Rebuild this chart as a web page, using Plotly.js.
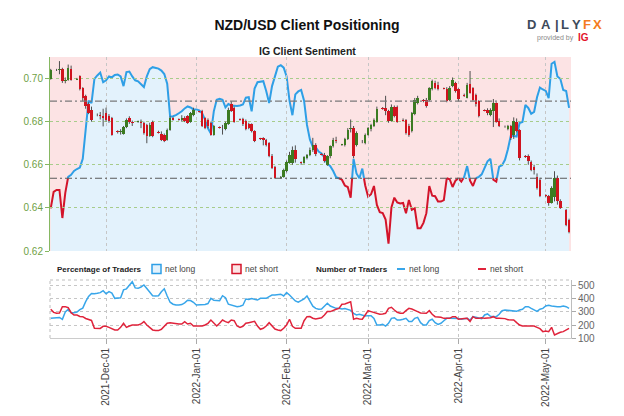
<!DOCTYPE html>
<html><head><meta charset="utf-8">
<script src="https://cdn.plot.ly/plotly-3.0.1.min.js"></script>
<style>html,body{margin:0;padding:0;background:#fff}#chart{width:624px;height:416px}</style>
</head><body><div id="chart"></div>
<script>
// ---- calendar ----
const START_DATE = [2021, 10, 12];   // 2021-11-12 (UTC, month 0-based)
const N_DAYS = 179;                  // through 2022-05-09
const monthTicks = ['2021-12-01','2022-01-01','2022-02-01','2022-03-01','2022-04-01','2022-05-01'];
const monthLabels = ['2021-Dec-01','2022-Jan-01','2022-Feb-01','2022-Mar-01','2022-Apr-01','2022-May-01'];
const priceTicks = [0.62, 0.64, 0.66, 0.68, 0.70];
const pctTicks = [35, 40, 45, 50, 55, 60, 65, 70, 75];
const traderTicks = [100, 200, 300, 400, 500];

// ---- % of traders net long (daily) ----
const sentimentLong = [
43.8,47.2,47.6,47.6,41.8,47,50.3,50.7,51.5,51.9,
52.2,54,60,66,65.5,70.5,71.2,71.8,69.8,70.2,
71,70.8,71.3,71.4,71,69,71.9,72,71,70.2,
70,69.5,68.8,71,72.5,72.9,72.8,72.6,72.2,71.5,
69.5,62.7,62.8,63,63.4,63.8,64.4,64.8,64.6,64.2,
64.2,64,63.4,62.1,60.3,59.2,63.8,66.2,66.4,66.2,
64.6,65.3,65,64.9,64.9,65,65.2,66.6,66.7,63.8,
68.5,69.8,69.9,70,68,65.5,69,71,73,73.3,
72.8,71,66,63,67.3,67.9,68.2,66,61,58,
56.5,56.4,55.5,55.1,54.3,53,52.5,51.5,50.2,50,
49.7,48.5,48.2,46,54,51,50,52,48.5,46.2,
46.7,48.4,44.5,43,42.8,41.5,36.5,44,46,45,
44.8,44.9,42.8,45.5,43.5,43.8,39.7,39.7,40.8,42.8,
48.4,46.4,46.3,45.2,45.2,45.5,50,49.8,48.2,49.5,
50,49.3,50.3,52.5,49.5,48.4,50,50.3,50.8,52.3,
53.5,54,49.7,49.3,52.4,52.7,53.8,56,58.8,58.7,
58.6,61.4,61.6,65.1,64.5,63.3,63.7,66.7,68.7,68.3,
68,66.5,73.6,74,71,70.5,68.2,68,64.5];

// ---- number of traders (daily) ----
const tradersLong = [
251,254,256,258,244,300,320,295,295,300,
318,330,380,420,442,440,444,449,464,440,
456,445,405,405,410,470,478,505,533,485,
482,492,508,480,450,425,423,425,455,478,
423,375,360,354,354,357,370,390,388,375,
354,354,354,358,365,405,390,387,387,425,
410,360,352,343,341,344,352,400,397,403,
400,392,405,405,405,418,430,431,435,437,
423,449,431,407,385,375,390,400,423,385,
345,328,321,323,346,367,346,336,328,328,
323,326,321,313,290,277,282,277,269,272,
272,251,200,200,205,192,213,251,256,238,
238,244,251,226,226,251,259,218,200,200,
233,244,218,205,213,233,251,251,251,251,
249,244,249,251,238,264,259,251,249,277,
285,267,264,264,282,310,315,313,313,310,
305,315,321,341,341,328,315,305,321,328,
346,351,346,341,341,341,346,341,328];
const tradersShort = [
321,297,291,292,341,341,333,295,277,277,
266,264,250,240,235,175,174,174,190,190,
182,170,162,162,182,213,182,192,200,200,
200,208,226,200,182,162,157,157,167,187,
213,218,213,208,208,208,226,208,213,192,
192,192,192,200,213,238,213,192,213,238,
226,218,238,233,192,182,190,213,218,226,
228,192,167,175,192,218,192,169,162,157,
175,200,244,190,175,175,175,233,264,265,
252,246,249,256,277,303,303,315,321,328,
359,362,372,379,244,251,246,244,277,310,
303,295,290,282,285,290,328,336,315,298,
290,290,310,328,323,315,303,292,290,290,
310,282,264,264,259,251,251,251,264,264,
244,244,249,251,226,264,251,251,256,251,
251,256,264,251,251,251,249,241,238,238,
218,200,192,192,192,192,192,182,172,149,
154,149,182,123,136,144,149,162,174];

// ---- NZD/USD daily candles (Sun-Fri sessions) ----
const priceOpen = [
.6998,
.7040,.7038,.7045,.6988,.6995,.7045,
.6995,.7010,.6957,.6918,.6880,.6855,
.6832,.6830,.6825,.6840,.6825,.6818,
.6755,.6752,.6745,.6775,.6815,.6800,
.6800,.6800,.6795,.6785,.6735,.6800,
.6752,.6745,.6740,.6716,.6763,.6815,
.6812,.6810,.6818,.6825,.6800,.6830,
.6848,.6848,.6815,.6810,.6795,.6740,
.6775,.6772,.6765,.6790,.6880,.6865,
.6812,.6812,.6805,.6790,.6788,.6755,
.6722,.6722,.6716,.6700,.6640,.6592,
.6538,.6545,.6570,.6610,.6610,.6670,
.6612,.6610,.6632,.6645,.6668,.6690,
.6650,.6647,.6600,.6639,.6685,.6716,
.6693,.6690,.6720,.6765,.6770,.6690,
.6712,.6700,.6740,.6765,.6780,.6800,
.6865,.6862,.6848,.6805,.6870,.6870,
.6810,.6808,.6780,.6755,.6835,.6888,
.6900,.6902,.6902,.6950,.6980,.6972,
.6955,.6950,.6900,.6965,.6980,.6950,
.6925,.6912,.6975,.6955,.6925,.6895,
.6853,.6855,.6833,.6850,.6885,.6805,
.6778,.6765,.6778,.6740,.6800,.6760,
.6640,.6640,.6615,.6590,.6545,.6530,
.6460,.6455,.6425,.6450,.6540,.6430,
.6392,.6345];
const priceHigh = [
.7045,
.7045,.7081,.7050,.7005,.7065,.7060,
.7003,.7015,.6960,.6925,.6890,.6870,
.6838,.6845,.6860,.6865,.6835,.6822,
.6760,.6765,.6780,.6815,.6825,.6805,
.6805,.6810,.6800,.6790,.6795,.6805,
.6758,.6755,.6745,.6768,.6825,.6822,
.6815,.6830,.6825,.6830,.6845,.6865,
.6850,.6855,.6820,.6815,.6800,.6785,
.6778,.6785,.6800,.6865,.6895,.6870,
.6815,.6818,.6810,.6795,.6792,.6760,
.6725,.6728,.6720,.6705,.6650,.6595,
.6548,.6582,.6620,.6660,.6685,.6690,
.6615,.6640,.6650,.6680,.6725,.6700,
.6653,.6655,.6645,.6690,.6725,.6730,
.6697,.6725,.6770,.6810,.6780,.6755,
.6715,.6745,.6775,.6790,.6815,.6870,
.6868,.6920,.6855,.6880,.6875,.6875,
.6815,.6812,.6790,.6845,.6910,.6920,
.6905,.6910,.6960,.6995,.6990,.6985,
.6958,.6960,.6965,.7005,.6985,.6955,
.6930,.6980,.7035,.6960,.6930,.6900,
.6857,.6862,.6862,.6905,.6890,.6815,
.6782,.6785,.6785,.6820,.6815,.6765,
.6645,.6648,.6620,.6600,.6560,.6540,
.6463,.6460,.6500,.6570,.6550,.6440,
.6395,.6350];
const priceLow = [
.6995,
.7035,.7020,.6980,.6978,.6990,.6990,
.6993,.6945,.6895,.6860,.6835,.6800,
.6825,.6810,.6778,.6800,.6795,.6735,
.6745,.6740,.6740,.6770,.6790,.6780,
.6795,.6770,.6740,.6700,.6730,.6728,
.6745,.6710,.6705,.6712,.6758,.6805,
.6805,.6800,.6798,.6790,.6795,.6825,
.6842,.6775,.6765,.6770,.6735,.6735,
.6768,.6740,.6760,.6785,.6845,.6795,
.6805,.6780,.6760,.6765,.6750,.6705,
.6715,.6690,.6685,.6635,.6580,.6535,
.6535,.6540,.6565,.6605,.6600,.6610,
.6600,.6605,.6625,.6640,.6660,.6640,
.6644,.6610,.6595,.6630,.6680,.6700,
.6688,.6685,.6715,.6750,.6630,.6685,
.6700,.6695,.6735,.6755,.6775,.6795,
.6855,.6830,.6795,.6800,.6820,.6795,
.6800,.6740,.6730,.6750,.6830,.6880,
.6890,.6865,.6895,.6945,.6950,.6945,
.6950,.6890,.6895,.6960,.6935,.6895,
.6915,.6908,.6930,.6895,.6870,.6820,
.6848,.6830,.6825,.6775,.6795,.6775,
.6772,.6760,.6715,.6720,.6750,.6620,
.6632,.6600,.6570,.6555,.6485,.6450,
.6450,.6410,.6420,.6430,.6415,.6395,
.6315,.6282];
const priceClose = [
.7042,
.7038,.7045,.6988,.6995,.7050,.6995,
.7000,.6950,.6910,.6872,.6840,.6810,
.6830,.6825,.6815,.6810,.6802,.6740,
.6750,.6758,.6775,.6810,.6800,.6795,
.6802,.6795,.6748,.6732,.6785,.6733,
.6748,.6716,.6710,.6763,.6817,.6810,
.6810,.6818,.6805,.6795,.6840,.6855,
.6845,.6780,.6772,.6780,.6740,.6778,
.6772,.6770,.6795,.6855,.6850,.6800,
.6810,.6788,.6765,.6770,.6755,.6710,
.6720,.6715,.6690,.6640,.6585,.6538,
.6545,.6578,.6615,.6645,.6670,.6625,
.6610,.6635,.6645,.6670,.6690,.6650,
.6647,.6616,.6639,.6685,.6716,.6710,
.6693,.6720,.6762,.6772,.6640,.6748,
.6710,.6740,.6770,.6785,.6810,.6860,
.6860,.6850,.6802,.6870,.6825,.6800,
.6805,.6747,.6740,.6840,.6902,.6910,
.6895,.6872,.6957,.6988,.6957,.6950,
.6953,.6895,.6957,.6995,.6940,.6903,
.6920,.6972,.6935,.6900,.6880,.6825,
.6850,.6840,.6856,.6885,.6800,.6780,
.6778,.6778,.6724,.6805,.6755,.6630,
.6638,.6616,.6578,.6575,.6492,.6455,
.6455,.6425,.6490,.6540,.6430,.6400,
.6320,.6290];

// ---- build calendar ----
const DAY = 864e5;
const t0 = Date.UTC(START_DATE[0], START_DATE[1], START_DATE[2]);
const days = [], dayMs = [];
for (let i = 0; i < N_DAYS; i++) { dayMs.push(t0 + i * DAY); days.push(new Date(t0 + i * DAY).toISOString().slice(0, 10)); }
const candleDays = days.filter(s => new Date(s + 'T00:00:00Z').getUTCDay() !== 6);

// split sentiment line at the 50% level into net-long (blue) / net-short (red) pieces
function splitAt(xs, ys, th) {
  const hi = {x: [], y: []}, lo = {x: [], y: []};
  for (let i = 0; i < ys.length; i++) {
    const v = ys[i], t = xs[i];
    if (i > 0) {
      const pv = ys[i - 1], pt = xs[i - 1];
      if ((pv >= th) !== (v >= th)) {
        const ct = pt + (th - pv) / (v - pv) * (t - pt);
        const from = pv >= th ? hi : lo, to = pv >= th ? lo : hi;
        from.x.push(ct); from.y.push(th); from.x.push(null); from.y.push(null);
        to.x.push(ct); to.y.push(th);
      }
    }
    (v >= th ? hi : lo).x.push(t); (v >= th ? hi : lo).y.push(v);
  }
  return {hi, lo};
}
const seg = splitAt(dayMs, sentimentLong, 50);

// ---- colours ----
const C = {pink: '#fce3e4', lightBlue: '#e3f2fc', blue: '#2e9fe6', red: '#d3142a',
  up: '#3c7b22', down: '#d0141f', wick: '#4f4f4f', green: '#6f9f45', greenLine: '#86b862',
  greenGrid: '#a7cc8b', grayGrid: '#c6c6c6', nlBlue: '#38a6ea', nsRed: '#e0233b'};
const FONT = 'Liberation Sans, Arial, sans-serif';

// ---- geometry helpers (page px -> paper) ----
const W = 624, H = 416, ML = 50, MR = 53, MT = 57, MB = 78;
const PW = W - ML - MR, PH = H - MT - MB;
const px = x => (x - ML) / PW, py = y => (H - MB - y) / PH;
const mainDom = [py(251), 1], lowDom = [0, py(280)];
const R = ['2021-11-11 18:00', '2022-05-09 16:00'];

const bodyBase = priceOpen.map((o, i) => Math.min(o, priceClose[i]));
const bodyLen = priceOpen.map((o, i) => Math.max(Math.abs(priceClose[i] - o), 0.00012));
const bodyCol = priceOpen.map((o, i) => priceClose[i] >= o ? C.up : C.down);

const traces = [
  {type: 'scatter', x: dayMs, y: sentimentLong, xaxis: 'x', yaxis: 'y', mode: 'lines',
   line: {width: 0}, fill: 'tozeroy', fillcolor: C.lightBlue, hoverinfo: 'skip'},
  {type: 'scatter', x: seg.hi.x, y: seg.hi.y, xaxis: 'x', yaxis: 'y', mode: 'lines',
   line: {color: C.blue, width: 2}, connectgaps: false},
  {type: 'scatter', x: seg.lo.x, y: seg.lo.y, xaxis: 'x', yaxis: 'y', mode: 'lines',
   line: {color: C.red, width: 2}, connectgaps: false},
  {type: 'ohlc', x: candleDays, open: priceOpen, high: priceHigh, low: priceLow, close: priceClose,
   xaxis: 'x2', yaxis: 'y2', tickwidth: 0,
   increasing: {line: {color: C.wick, width: 1}}, decreasing: {line: {color: C.wick, width: 1}}},
  {type: 'bar', x: candleDays, base: bodyBase, y: bodyLen, xaxis: 'x2', yaxis: 'y6',
   width: 0.85 * DAY, marker: {color: bodyCol, line: {width: 0}}},
  {type: 'scatter', x: days, y: tradersLong, xaxis: 'x3', yaxis: 'y4', mode: 'lines',
   line: {color: C.nlBlue, width: 1.5}},
  {type: 'scatter', x: days, y: tradersShort, xaxis: 'x3', yaxis: 'y4', mode: 'lines',
   line: {color: C.nsRed, width: 1.5}}
];

const dateAxisBase = {type: 'date', range: R, domain: [0, 1], zeroline: false, fixedrange: true};
const layout = {
  width: W, height: H, margin: {l: ML, r: MR, t: MT, b: MB},
  paper_bgcolor: '#ffffff', plot_bgcolor: 'rgba(0,0,0,0)', showlegend: false,
  font: {family: FONT, size: 10, color: '#444'},
  title: {text: '<b>NZD/USD Client Positioning</b>', font: {family: FONT, size: 14, color: '#111'},
          xref: 'container', x: 307 / W, xanchor: 'center', yref: 'container', y: 1 - 24.7 / H, yanchor: 'middle'},
  bargap: 0,
  xaxis: Object.assign({}, dateAxisBase, {anchor: 'y', visible: false}),
  yaxis: {domain: mainDom, anchor: 'x', range: [35, 75], visible: false},
  xaxis2: Object.assign({}, dateAxisBase, {anchor: 'y2', tickvals: monthTicks, showticklabels: false, ticks: '',
          showgrid: true, gridcolor: C.grayGrid, griddash: 'dot', gridwidth: 1, rangeslider: {visible: false}, showline: false}),
  yaxis2: {domain: mainDom, anchor: 'x2', side: 'left', range: [0.62, 0.71], tickvals: priceTicks, tickformat: '.2f',
          tickfont: {color: C.green, size: 10, family: FONT}, showline: true, linecolor: C.greenLine, linewidth: 1,
          ticks: 'outside', ticklen: 4, tickcolor: C.greenLine, showgrid: true, gridcolor: C.greenGrid, griddash: 'dot',
          zeroline: false, fixedrange: true},
  yaxis3: {overlaying: 'y2', anchor: 'x2', side: 'right', range: [35, 75], tickvals: pctTicks,
          ticktext: pctTicks.map(v => v + '%'), tickfont: {color: '#666', size: 10, family: FONT},
          showline: true, linecolor: '#bdbdbd', ticks: 'outside', ticklen: 4, tickcolor: '#aaa',
          showgrid: false, zeroline: false, fixedrange: true},
  yaxis5: {overlaying: 'y2', anchor: 'x2', range: [35, 75], tickvals: [40, 60, 70, 75], showticklabels: false,
          ticks: '', showgrid: true, gridcolor: C.grayGrid, griddash: 'dot', showline: false, zeroline: false},
  yaxis6: {overlaying: 'y2', anchor: 'x2', range: [0.62, 0.71], visible: false},
  xaxis3: Object.assign({}, dateAxisBase, {anchor: 'y4', tickvals: monthTicks, ticktext: monthLabels, tickangle: -90,
          tickfont: {size: 10, color: '#444', family: FONT}, ticks: 'outside', ticklen: 5, tickcolor: '#aaa',
          showline: true, linecolor: '#cccccc', showgrid: true, gridcolor: C.grayGrid, griddash: 'dot'}),
  yaxis4: {domain: lowDom, anchor: 'x3', side: 'right', range: [100, 546], tickvals: traderTicks,
          tickfont: {size: 10, color: '#666', family: FONT}, showline: true, linecolor: '#bdbdbd',
          ticks: 'outside', ticklen: 4, tickcolor: '#aaa', showgrid: true, gridcolor: C.grayGrid, griddash: 'dot',
          zeroline: false, fixedrange: true},
  shapes: [
    {type: 'rect', xref: 'paper', yref: 'paper', x0: 0, x1: 1, y0: mainDom[0], y1: 1,
     fillcolor: C.pink, line: {width: 0}, layer: 'below'},
    {type: 'line', xref: 'paper', yref: 'y', x0: 0, x1: 1, y0: 50, y1: 50,
     line: {color: '#5a5a5a', width: 1.2, dash: '7px,3px,2px,3px'}, layer: 'above'},
    {type: 'line', xref: 'paper', yref: 'y', x0: 0, x1: 1, y0: 65.9, y1: 65.9,
     line: {color: '#7a7a7a', width: 1.1, dash: '7px,3px,2px,3px'}, layer: 'above'},
    {type: 'line', xref: 'paper', yref: 'paper', x0: 0, x1: 1, y0: lowDom[1], y1: lowDom[1],
     line: {color: '#bdbdbd', width: 1, dash: 'dot'}},
    {type: 'line', xref: 'paper', yref: 'paper', x0: 0, x1: 0, y0: 0, y1: lowDom[1],
     line: {color: '#bdbdbd', width: 1, dash: 'dot'}},
    // legend keys
    {type: 'rect', xref: 'paper', yref: 'paper', x0: px(152), x1: px(161), y0: py(273.5), y1: py(264.5),
     fillcolor: C.lightBlue, line: {color: C.blue, width: 1.5}},
    {type: 'rect', xref: 'paper', yref: 'paper', x0: px(232), x1: px(241), y0: py(273.5), y1: py(264.5),
     fillcolor: C.pink, line: {color: C.red, width: 1.5}},
    {type: 'line', xref: 'paper', yref: 'paper', x0: px(397), x1: px(405), y0: py(269), y1: py(269),
     line: {color: C.nlBlue, width: 2}},
    {type: 'line', xref: 'paper', yref: 'paper', x0: px(478), x1: px(486), y0: py(269), y1: py(269),
     line: {color: C.nsRed, width: 2}}
  ],
  annotations: []
};

const A = layout.annotations;
function note(text, x, y, opts) {
  A.push(Object.assign({text: text, xref: 'paper', yref: 'paper', x: px(x), y: py(y), showarrow: false,
    xanchor: 'left', yanchor: 'middle', borderpad: 0, font: {family: FONT, size: 8, color: '#222'}}, opts || {}));
}
note('<b>IG Client Sentiment</b>', 307, 50.5, {xanchor: 'center', font: {family: FONT, size: 10.5, color: '#222'}});
note('<b>Percentage of Traders</b>', 56, 269, {font: {family: FONT, size: 8, color: '#222'}});
note('net long', 164, 269, {font: {family: FONT, size: 8.5, color: '#444'}});
note('net short', 244, 269, {font: {family: FONT, size: 8.5, color: '#444'}});
note('<b>Number of Traders</b>', 315, 269, {font: {family: FONT, size: 8, color: '#222'}});
note('net long', 408, 269, {font: {family: FONT, size: 8.5, color: '#444'}});
note('net short', 489, 269, {font: {family: FONT, size: 8.5, color: '#444'}});
// DailyFX logo
const logo = [['D', 531, '#3d4a5a'], ['A', 546, '#3d4a5a'], ['|', 557, '#3d4a5a'], ['L', 565, '#3d4a5a'],
              ['Y', 576, '#3d4a5a'], ['F', 587, '#f47b20'], ['X', 597, '#f47b20']];
logo.forEach(l => note('<b>' + l[0] + '</b>', l[1], 25, {xanchor: 'center', font: {family: FONT, size: 13, color: l[2]}}));
note('provided by', 575, 38, {xanchor: 'right', font: {family: FONT, size: 7, color: '#8a8a8a'}});
note('<b>IG</b>', 577, 37.5, {font: {family: FONT, size: 10, color: '#e3132b'}});

Plotly.newPlot('chart', traces, layout, {staticPlot: true, displayModeBar: false});
</script></body></html>
